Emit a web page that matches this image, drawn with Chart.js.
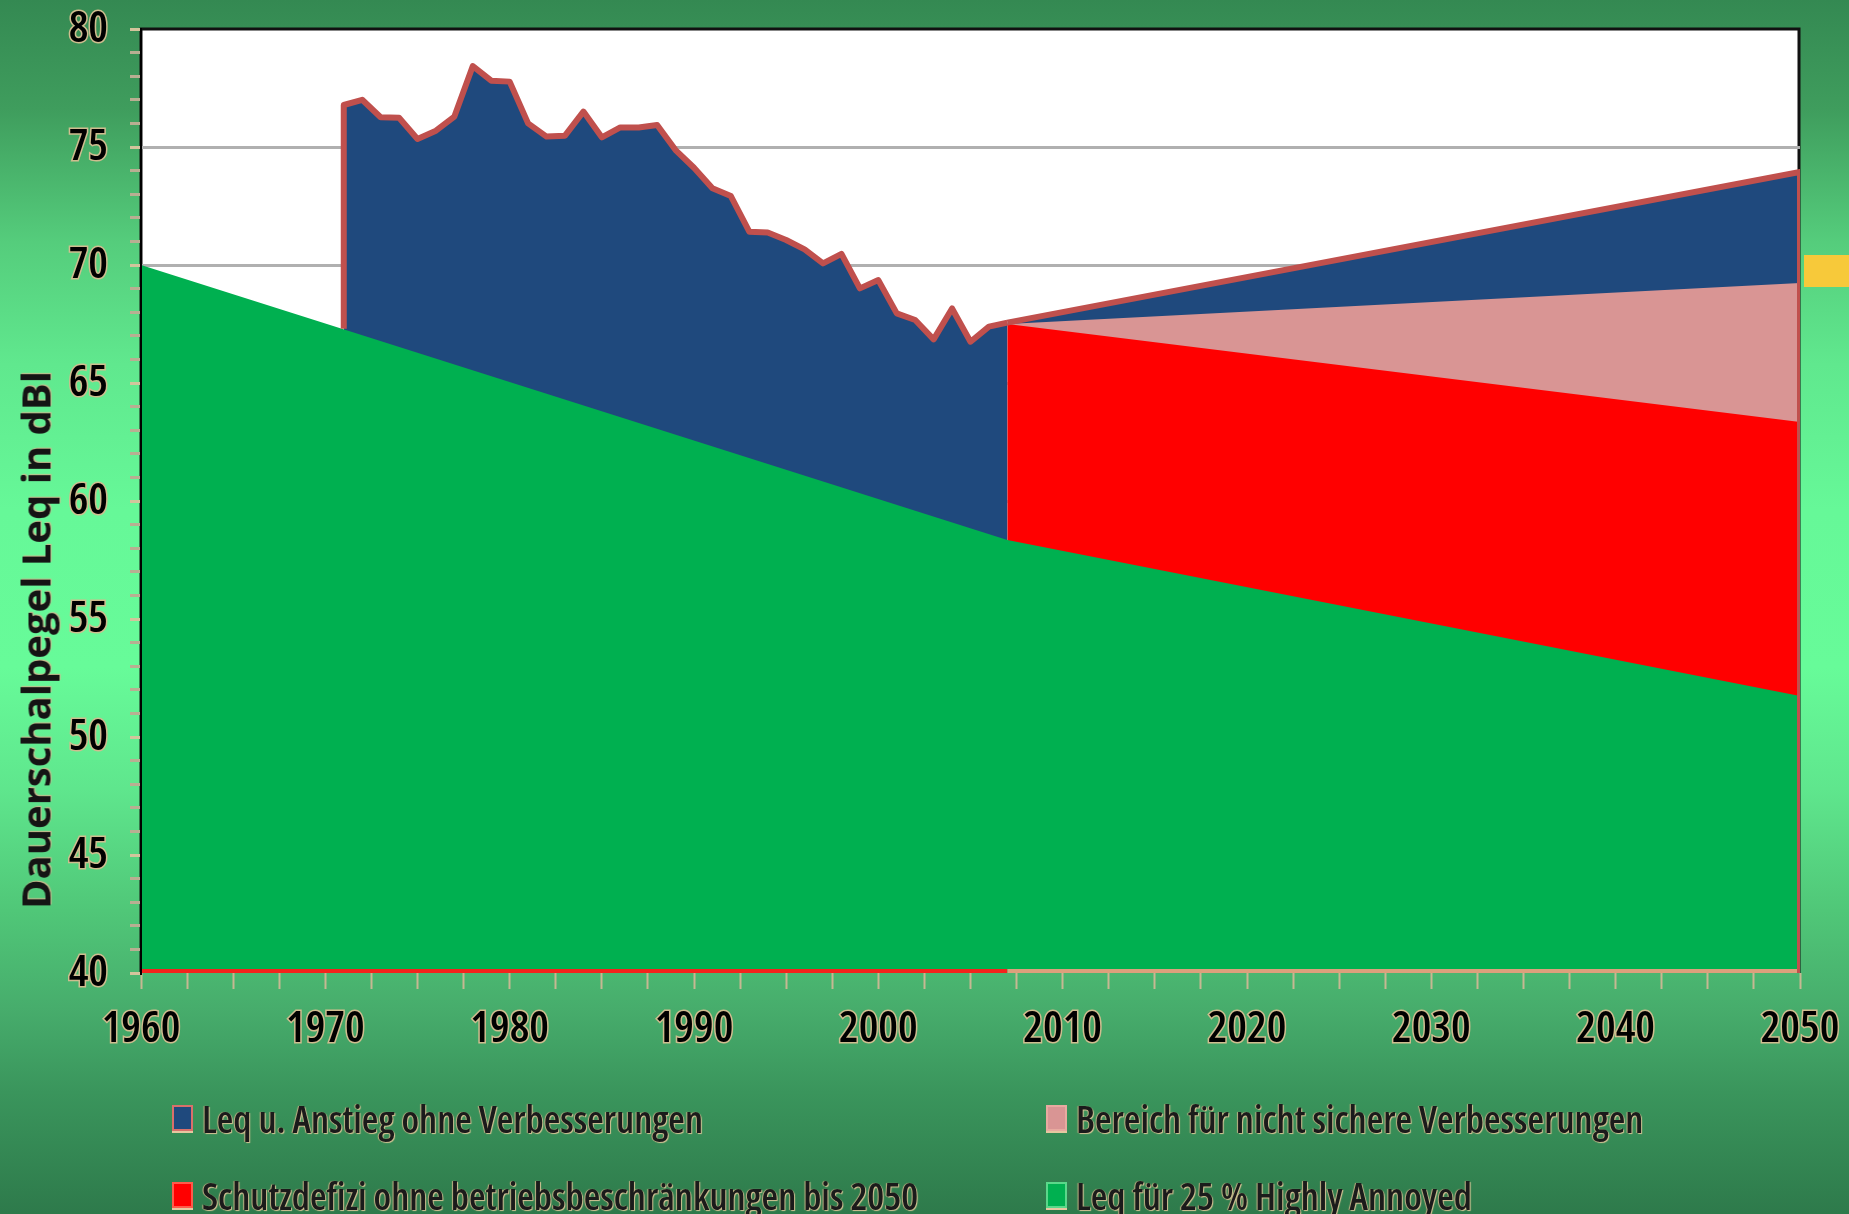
<!DOCTYPE html>
<html>
<head>
<meta charset="utf-8">
<script src="https://cdn.jsdelivr.net/npm/chart.js@4.4.1/dist/chart.umd.min.js"></script>
<style>
  html, body { margin: 0; padding: 0; }
  body {
    width: 1849px; height: 1214px; overflow: hidden; position: relative;
    background: linear-gradient(to bottom, #348952 0%, #3f9d5d 9%, #55cd7c 20%, #60e88e 30%, #66f898 42%, #67fb99 55%, #5fe68d 65%, #50c778 75%, #47ad6c 83%, #3a955c 90%, #2e7a4b 100%);
  }
  #wrap { position: absolute; left: 0; top: 0; width: 1849px; height: 1214px; }
  #yTitle {
    position: absolute; left: 35px; top: 640px;
    transform: translate(-50%, -50%) rotate(-90deg);
    white-space: nowrap;
    font-family: 'Open Sans', 'Liberation Sans', Arial, sans-serif;
    font-weight: 700; font-size: 40px;
    color: #141414;
    text-shadow: 1px 1px 1px #cdbb8e;
  }
  #legend {
    position: absolute; left: 172px; top: 1098px;
    display: grid; grid-template-columns: 874px auto; row-gap: 37px;
  }
  #legend .item { display: flex; align-items: center; height: 40px; white-space: nowrap; }
  #legend .box {
    flex: none;
    width: 21px; height: 26px; box-sizing: border-box; border: 2px solid; margin-right: 9px;
    box-shadow: 0 2px 0 #e6c7a0;
  }
  #legend .txt {
    font-family: 'Open Sans', 'Liberation Sans', sans-serif;
    font-stretch: 75%; font-weight: 600;
    font-size: 38px; line-height: 40px; color: #1b1b1b;
    text-shadow: 1px 1px 1px #d6c495, -1px 0 1px #c2b184;
  }
  #deco { position: absolute; left: 1804px; top: 255px; width: 45px; height: 32px; background: #f7c93a; }
</style>
</head>
<body>
<div id="wrap"><canvas id="laermChart"></canvas></div>
<div id="deco"></div>
<div id="yTitle">Dauerschalpegel Leq in dBl</div>
<div id="legend"></div>
<script>
  const histYears = [1971, 1971, 1972, 1973, 1974, 1975, 1976, 1977, 1978, 1979, 1980,
    1981, 1982, 1983, 1984, 1985, 1986, 1987, 1988, 1989, 1990,
    1991, 1992, 1993, 1994, 1995, 1996, 1997, 1998, 1999, 2000,
    2001, 2002, 2003, 2004, 2005, 2006, 2007];
  const histLeq = [67.3, 76.78, 77.0, 76.26, 76.24, 75.34, 75.69, 76.29, 78.43, 77.81, 77.77,
    76.0, 75.44, 75.48, 76.5, 75.41, 75.83, 75.83, 75.93, 74.87, 74.12,
    73.25, 72.92, 71.41, 71.38, 71.06, 70.66, 70.07, 70.47, 69.01, 69.36,
    67.95, 67.67, 66.85, 68.16, 66.75, 67.39, 67.56];

  const haYears = [1960, 2007, 2050];
  const haLeq = [70, 58.35, 51.74];          // Leq für 25 % Highly Annoyed

  const projYears = [2007, 2050];
  const defizitTop = [67.5, 63.35];          // Schutzdefizit
  const unsicherTop = [67.5, 69.24];         // nicht sichere Verbesserungen

  const anstiegYears = [2007, 2050, 2050];
  const anstiegTop = [67.56, 73.94, 40];     // Anstieg ohne Verbesserungen

  const baseYears = [1960, 2007, 2050];
  const baseLeq = [40, 40, 40];

  const xLabelYears = [1960, 1970, 1980, 1990, 2000, 2010, 2020, 2030, 2040, 2050];
  const yLabelValues = [40, 45, 50, 55, 60, 65, 70, 75, 80];

  const pts = (xs, ys) => xs.map((x, i) => ({ x, y: ys[i] }));

  const plotFrame = {
    id: 'plotFrame',
    beforeDraw(chart) {
      const { ctx, chartArea: a } = chart;
      ctx.save();
      ctx.fillStyle = '#fff';
      ctx.fillRect(a.left, a.top, a.right - a.left, a.bottom - a.top);
      ctx.strokeStyle = '#111';
      ctx.lineWidth = 3;
      ctx.beginPath();
      ctx.moveTo(a.left, a.bottom);
      ctx.lineTo(a.left, a.top);
      ctx.lineTo(a.right - 1, a.top);
      ctx.lineTo(a.right - 1, a.bottom);
      ctx.stroke();
      ctx.restore();
    }
  };

  const tickFont = { family: "'Open Sans', 'Liberation Sans'", size: 44, weight: '600 condensed' };

  const chart = new Chart(document.getElementById('laermChart'), {
    type: 'line',
    data: {
      datasets: [
        { label: 'Leq für 25 % Highly Annoyed', data: pts(haYears, haLeq),
          backgroundColor: '#00b050', borderWidth: 0, fill: 'start', legendEdge: '#5ad88a' },
        { label: 'Schutzdefizi ohne betriebsbeschränkungen bis 2050', data: pts(projYears, defizitTop),
          backgroundColor: '#ff0000', borderWidth: 0, fill: 'start', legendEdge: '#ff5a4a' },
        { label: 'Bereich für nicht sichere Verbesserungen', data: pts(projYears, unsicherTop),
          backgroundColor: '#d99594', borderWidth: 0, fill: 'start', legendEdge: '#e8aaa0' },
        { label: 'Leq u. Anstieg ohne Verbesserungen', data: pts(anstiegYears, anstiegTop),
          backgroundColor: '#1f497d', borderColor: '#c0504d', borderWidth: 6, fill: 'start' },
        { label: 'Leq u. Anstieg ohne Verbesserungen', data: pts(histYears, histLeq),
          backgroundColor: '#1f497d', borderColor: '#c0504d', borderWidth: 6, fill: 'start', legendEdge: '#d9706a' },
        { label: 'base', data: pts(baseYears, baseLeq), borderWidth: 8, fill: false,
          segment: { borderColor: c => c.p0.parsed.x < 2007 ? '#f3231c' : '#dca07c' } },
      ]
    },
    options: {
      responsive: true,
      maintainAspectRatio: false,
      animation: false,
      events: [],
      layout: { autoPadding: false, padding: { left: 8, right: 49, top: 29, bottom: 150 } },
      elements: {
        point: { radius: 0 },
        line: { tension: 0, borderJoinStyle: 'round', borderCapStyle: 'butt' }
      },
      scales: {
        x: {
          type: 'linear', min: 1960, max: 2050,
          afterFit: s => { s.height = 91; s.paddingLeft = 0; s.paddingRight = 0; },
          grid: { drawOnChartArea: false, tickLength: 16, tickColor: '#c6b892', tickWidth: 2 },
          border: { display: false },
          ticks: {
            stepSize: 2.5, autoSkip: false, maxRotation: 0, minRotation: 0, padding: 14,
            color: '#000', font: tickFont, textStrokeColor: '#cfbd8f', textStrokeWidth: 3,
            callback: v => xLabelYears.includes(v) ? String(v) : ''
          }
        },
        y: {
          min: 40, max: 80,
          afterFit: s => { s.width = 133; s.paddingTop = 0; s.paddingBottom = 0; },
          grid: {
            color: c => (c.tick.value % 5 === 0 && c.tick.value > 40 && c.tick.value < 80) ? '#b0b0b0' : 'transparent',
            lineWidth: 3,
            tickLength: 11,
            tickColor: c => c.tick.value % 5 === 0 ? '#d3c49c' : '#b9ae92',
            tickWidth: 3
          },
          border: { color: '#000', width: 2, z: 1 },
          ticks: {
            stepSize: 1, autoSkip: false, padding: 22,
            color: '#000', font: tickFont, textStrokeColor: '#cfbd8f', textStrokeWidth: 3,
            callback: v => yLabelValues.includes(v) ? String(v) : ''
          }
        }
      },
      plugins: {
        legend: { display: false },
        tooltip: { enabled: false },
        filler: { drawTime: 'beforeDatasetsDraw' }
      }
    },
    plugins: [plotFrame]
  });

  // HTML-Legende in zwei Spalten
  const legendOrder = [4, 2, 1, 0];
  const legendEl = document.getElementById('legend');
  legendOrder.forEach(i => {
    const ds = chart.data.datasets[i];
    const item = document.createElement('div');
    item.className = 'item';
    item.innerHTML = `<span class="box" style="background:${ds.backgroundColor};border-color:${ds.legendEdge}"></span><span class="txt">${ds.label}</span>`;
    legendEl.appendChild(item);
  });
</script>
</body>
</html>
